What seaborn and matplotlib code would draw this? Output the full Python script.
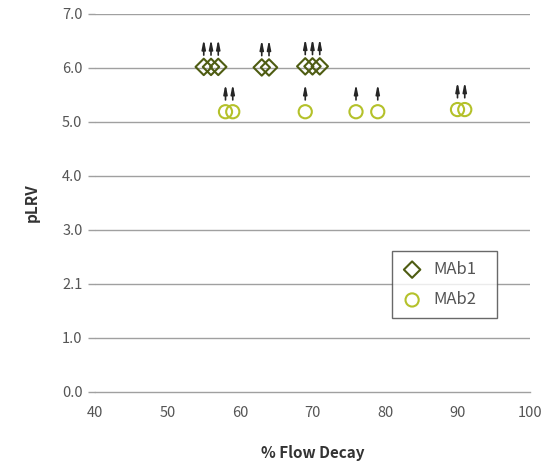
import matplotlib
matplotlib.use("Agg")
import matplotlib.pyplot as plt
import matplotlib.transforms as mtransforms
import seaborn as sns
import pandas as pd

# Data
mab1_x = [55, 56, 57, 63, 64, 69, 70, 71]
mab1_y = [6.02, 6.02, 6.02, 6.01, 6.01, 6.03, 6.03, 6.03]
mab2_x = [58, 59, 69, 76, 79, 90, 91]
mab2_y = [5.19, 5.19, 5.19, 5.19, 5.19, 5.23, 5.23]
series_names = ["MAb1", "MAb2"]
y_ticks = [0, 1, 2, 3, 4, 5, 6, 7]
y_tick_labels = ["0.0", "1.0", "2.1", "3.0", "4.0", "5.0", "6.0", "7.0"]
x_ticks = [40, 50, 60, 70, 80, 90, 100]

df = pd.DataFrame({
    "decay": mab1_x + mab2_x,
    "plrv": mab1_y + mab2_y,
    "series": [series_names[0]] * len(mab1_x) + [series_names[1]] * len(mab2_x),
})

sns.set_theme(style="white")
plt.rcParams["font.family"] = ["Noto Sans CJK KR", "DejaVu Sans"]

fig = plt.figure(figsize=(5.46, 4.66), dpi=100)
ax = fig.add_axes([0.174, 0.1588, 0.7967, 0.8112])

colors = {"MAb1": "#4e5c12", "MAb2": "#b4c12a"}
markers = {"MAb1": "D", "MAb2": "o"}
sizes = {"MAb1": 70, "MAb2": 90}

for s in series_names:
    sub = df[df["series"] == s]
    sns.scatterplot(data=sub, x="decay", y="plrv", marker=markers[s],
                    s=sizes[s], facecolors="none", edgecolor=colors[s],
                    linewidth=1.5, ax=ax, label=s, zorder=3)

# arrows indicating "greater than" (offset above each marker, in points)
tail_tr = mtransforms.offset_copy(ax.transData, fig=fig, x=0, y=8.5, units="points")
tip_tr = mtransforms.offset_copy(ax.transData, fig=fig, x=0, y=20, units="points")
for _, r in df.iterrows():
    ax.annotate("", xy=(r["decay"], r["plrv"]), xycoords=tip_tr,
                xytext=(r["decay"], r["plrv"]), textcoords=tail_tr,
                arrowprops=dict(arrowstyle="-|>,head_length=0.45,head_width=0.09",
                                color="#262626", lw=1.2,
                                shrinkA=0, shrinkB=0),
                annotation_clip=False)

ax.set_xlim(40, 100)
ax.set_ylim(0, 7)
ax.set_xticks(x_ticks)
ax.set_yticks(y_ticks)
ax.set_yticklabels(y_tick_labels)

for yv in y_ticks[1:]:
    ax.axhline(yv, color="#a0a0a0", lw=1.0, zorder=1)

for sp in ["top", "right", "left"]:
    ax.spines[sp].set_visible(False)
ax.spines["bottom"].set_color("#a0a0a0")
ax.spines["bottom"].set_linewidth(1.0)

ax.tick_params(axis="x", direction="out", length=5, width=1, color="#a0a0a0",
               labelsize=10.5, labelcolor="#555555", pad=5)
ax.tick_params(axis="y", direction="out", length=5, width=1, color="#a0a0a0",
               labelsize=10.5, labelcolor="#555555", pad=4, left=True)

ax.set_xlabel("% Flow Decay", fontsize=11, fontweight="bold", color="#333333", labelpad=18)
ax.set_ylabel("pLRV", fontsize=11, fontweight="bold", color="#333333", labelpad=16)

leg = ax.legend(loc="upper left", bbox_to_anchor=(0.683, 0.0, 0.241, 0.373),
                mode="expand", frameon=True,
                fancybox=False, edgecolor="#444444", fontsize=12,
                handletextpad=0.7, borderpad=0.6, labelspacing=0.8,
                handlelength=1.2, borderaxespad=0)
for t in leg.get_texts():
    t.set_color("#555555")
leg.get_frame().set_linewidth(1.0)
leg.set_zorder(5)

fig.savefig("out.png", dpi=100)
